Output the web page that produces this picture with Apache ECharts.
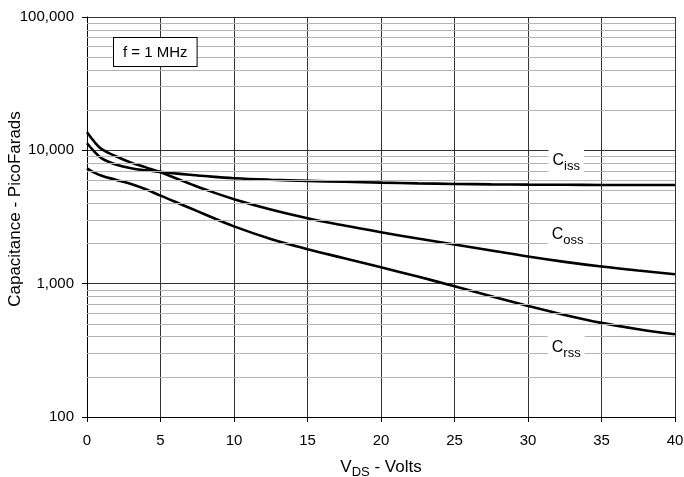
<!DOCTYPE html>
<html>
<head>
<meta charset="utf-8">
<script src="https://cdn.jsdelivr.net/npm/echarts@6/dist/echarts.min.js"></script>
<style>
  html, body { margin: 0; padding: 0; background: #fff; }
  #chart { width: 684px; height: 477px; }
</style>
</head>
<body>
<div id="chart"></div>
<script>
// drain-source voltage, volts
const vds = [0, 0.5, 1, 2, 3, 4, 5, 6, 7, 8, 10, 12.5, 15, 17.5, 20, 22.5, 25, 27.5, 30, 32.5, 35, 37.5, 40]
// capacitances, pF
const ciss = [11300, 9795, 8710, 7800, 7345, 7080, 6890, 6714, 6560, 6412, 6180, 6012, 5902, 5808, 5728, 5656, 5598, 5559, 5534, 5515, 5502, 5495, 5490]
const coss = [13650, 11600, 10200, 8990, 8085, 7450, 6850, 6200, 5620, 5100, 4302, 3597, 3097, 2729, 2432, 2181, 1966, 1773, 1598, 1457, 1344, 1254, 1178]
const crss = [7330, 6800, 6450, 6000, 5600, 5105, 4570, 4110, 3690, 3320, 2690, 2165, 1815, 1551, 1327, 1130, 956, 804, 681, 583, 508, 455, 417]

const xTicks = [0, 5, 10, 15, 20, 25, 30, 35, 40]
const yTicks = [100, 1000, 10000, 100000]
// minor log grid lines 2..9 in each decade
const minorLines = [200, 300, 400, 500, 600, 700, 800, 900,
    2000, 3000, 4000, 5000, 6000, 7000, 8000, 9000,
    20000, 30000, 40000, 50000, 60000, 70000, 80000, 90000]

// curve labels: name, subscript, anchor [V, pF]
const curveLabels = [
    ['C', 'iss', [32.6, 8175]],
    ['C', 'oss', [32.7, 2278]],
    ['C', 'rss', [32.6, 324]]
]

const FONT = "'Liberation Sans', Arial, sans-serif"

const pairs = (ys) => vds.map((v, i) => [v, ys[i]])

const curve = (name, ys) => ({
    name: name,
    type: 'line',
    data: pairs(ys),
    smooth: 0.4,
    showSymbol: false,
    symbol: 'none',
    lineStyle: { color: '#000', width: 2.6 },
    z: 3
})

const subRich = {
    c: { fontFamily: FONT, fontSize: 16, color: '#000', lineHeight: 20, verticalAlign: 'top' },
    s: { fontFamily: FONT, fontSize: 13, color: '#000', lineHeight: 13, verticalAlign: 'bottom' }
}

let chart = echarts.init(document.getElementById('chart'))

let option = {
    animation: false,
    backgroundColor: '#fff',
    grid: { left: 87, right: 9, top: 17, bottom: 60, containLabel: false, outerBoundsMode: 'none' },
    xAxis: {
        type: 'value',
        min: 0,
        max: 40,
        interval: 5,
        name: '{a|V}{b|DS}{a| - Volts}',
        nameLocation: 'middle',
        nameGap: 42,
        nameTextStyle: {
            rich: {
                a: { fontFamily: FONT, fontSize: 17, color: '#000', lineHeight: 20, verticalAlign: 'top' },
                b: { fontFamily: FONT, fontSize: 13, color: '#000', lineHeight: 13, verticalAlign: 'bottom' }
            }
        },
        axisLine: { lineStyle: { color: '#000', width: 1 } },
        axisTick: { show: true, length: 5, inside: false, lineStyle: { color: '#000' } },
        axisLabel: {
            fontFamily: FONT, fontSize: 15, color: '#000', margin: 16,
            formatter: (v) => xTicks.includes(v) ? String(v) : ''
        },
        splitLine: { show: true, lineStyle: { color: '#333', width: 1 } }
    },
    yAxis: {
        type: 'log',
        logBase: 10,
        min: 100,
        max: 100000,
        name: 'Capacitance - PicoFarads',
        nameLocation: 'middle',
        nameGap: 63,
        nameMoveOverlap: false,
        nameTextStyle: { fontFamily: FONT, fontSize: 17, color: '#000', padding: [0, 0, 0, 16] },
        axisLine: { show: true, lineStyle: { color: '#000', width: 1 } },
        axisTick: { show: true, length: 5, inside: false, lineStyle: { color: '#000' } },
        axisLabel: {
            fontFamily: FONT, fontSize: 15, color: '#000', margin: 13,
            formatter: (v) => {
                let r = Math.round(v)
                return yTicks.includes(r) ? r.toLocaleString('en-US') : ''
            }
        },
        splitLine: { show: true, lineStyle: { color: '#333', width: 1 } }
    },
    series: [
        {
            name: 'minor grid',
            type: 'line',
            data: [],
            silent: true,
            z: 1,
            markLine: {
                silent: true,
                animation: false,
                symbol: ['none', 'none'],
                label: { show: false },
                lineStyle: { color: '#b4b4b4', type: 'solid', width: 1 },
                data: minorLines.map(v => ({ yAxis: v }))
            }
        },
        curve('Ciss', ciss),
        curve('Coss', coss),
        curve('Crss', crss),
        {
            name: 'labels',
            type: 'scatter',
            data: [],
            silent: true,
            z: 5,
            markPoint: {
                silent: true,
                animation: false,
                symbol: 'rect',
                symbolSize: 0,
                label: {
                    show: true,
                    position: 'inside',
                    backgroundColor: '#fff',
                    padding: [4, 4, 3, 4],
                    rich: subRich
                },
                data: curveLabels.map(l => ({
                    coord: l[2],
                    value: 0,
                    label: { formatter: '{c|' + l[0] + '}{s|' + l[1] + '}' }
                }))
            }
        }
    ],
    graphic: [
        {
            type: 'text',
            left: 113,
            top: 37,
            z: 10,
            style: {
                text: 'f = 1 MHz',
                font: '15px ' + FONT,
                fill: '#000',
                backgroundColor: '#fff',
                borderColor: '#000',
                borderWidth: 1,
                padding: [7, 9, 6, 9]
            }
        }
    ]
}

chart.setOption(option)
window.addEventListener('resize', () => chart.resize())
</script>
</body>
</html>
